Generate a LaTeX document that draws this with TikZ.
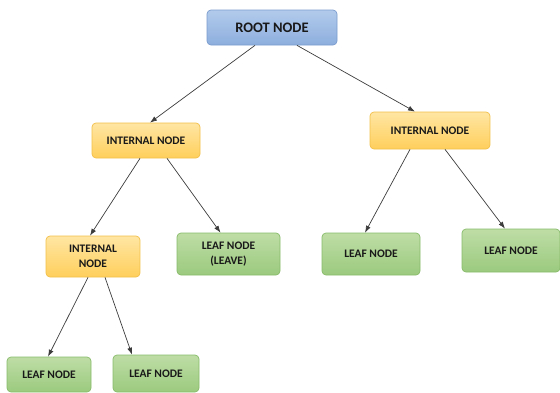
\documentclass[tikz,border=0pt]{standalone}
\usepackage{fontspec}
\setmainfont{Carlito}
\usetikzlibrary{arrows.meta}
\definecolor{bluetop}{HTML}{B2CBEC}
\definecolor{bluebot}{HTML}{8DAEDD}
\definecolor{blueline}{HTML}{7A9CCD}
\definecolor{orgtop}{HTML}{FFE6A3}
\definecolor{orgbot}{HTML}{FFCF5C}
\definecolor{orgline}{HTML}{F2C04A}
\definecolor{grntop}{HTML}{BEDDA6}
\definecolor{grnbot}{HTML}{9BCA7E}
\definecolor{grnline}{HTML}{88BB6A}
\definecolor{edge}{HTML}{3C3C3C}

\begin{document}
\begin{tikzpicture}[x=1pt,y=-1pt,
  box/.style={draw,rounded corners=4pt,line width=0.7pt,align=center,
    font=\bfseries\fontsize{11.5}{14.5}\selectfont,text=black!90,inner sep=0pt},
  rootbox/.style={box,draw=blueline,top color=bluetop,bottom color=bluebot,
    font=\bfseries\fontsize{14.5}{17}\selectfont},
  inbox/.style={box,draw=orgline,top color=orgtop,bottom color=orgbot},
  leafbox/.style={box,draw=grnline,top color=grntop,bottom color=grnbot},
  >={Latex[length=7pt,width=5pt]}]
\useasboundingbox (0,0) rectangle (560,392);

\node[rootbox,minimum width=130pt,minimum height=35pt](root) at (272,27.5) {ROOT NODE};

\node[inbox,minimum width=108pt,minimum height=35pt](in1) at (146,140.5) {INTERNAL NODE};
\node[inbox,minimum width=120pt,minimum height=37pt](in3) at (430,130.5) {INTERNAL NODE};
\node[inbox,minimum width=94pt,minimum height=41pt](in2) at (93,256.5) {INTERNAL\\NODE};

\node[leafbox,minimum width=103pt,minimum height=42pt](lf1) at (228.5,254) {LEAF NODE\\(LEAVE)};
\node[leafbox,minimum width=98pt,minimum height=42pt](lf2) at (371,254) {LEAF NODE};
\node[leafbox,minimum width=98pt,minimum height=43pt](lf3) at (511,250.5) {LEAF NODE};
\node[leafbox,minimum width=84pt,minimum height=35pt](lf4) at (49,374.5) {LEAF NODE};
\node[leafbox,minimum width=86pt,minimum height=37pt](lf5) at (156,373.5) {LEAF NODE};

\draw[->,edge,line width=0.7pt] ([xshift=-17pt]root.south) -- ([xshift=4pt]in1.north);
\draw[->,edge,line width=0.7pt] ([xshift=25pt]root.south) -- ([xshift=-15pt]in3.north);
\draw[->,edge,line width=0.7pt] ([xshift=-6pt]in1.south) -- ([xshift=-3pt]in2.north);
\draw[->,edge,line width=0.7pt] ([xshift=21pt]in1.south) -- ([xshift=-8pt]lf1.north);
\draw[->,edge,line width=0.7pt] ([xshift=-20pt]in3.south) -- ([xshift=-6pt]lf2.north);
\draw[->,edge,line width=0.7pt] ([xshift=15pt]in3.south) -- ([xshift=-6pt]lf3.north);
\draw[->,edge,line width=0.7pt] ([xshift=-5pt]in2.south) -- ([xshift=-1pt]lf4.north);
\draw[->,edge,line width=0.7pt] ([xshift=12pt]in2.south) -- ([xshift=-24pt]lf5.north);
\end{tikzpicture}
\end{document}
